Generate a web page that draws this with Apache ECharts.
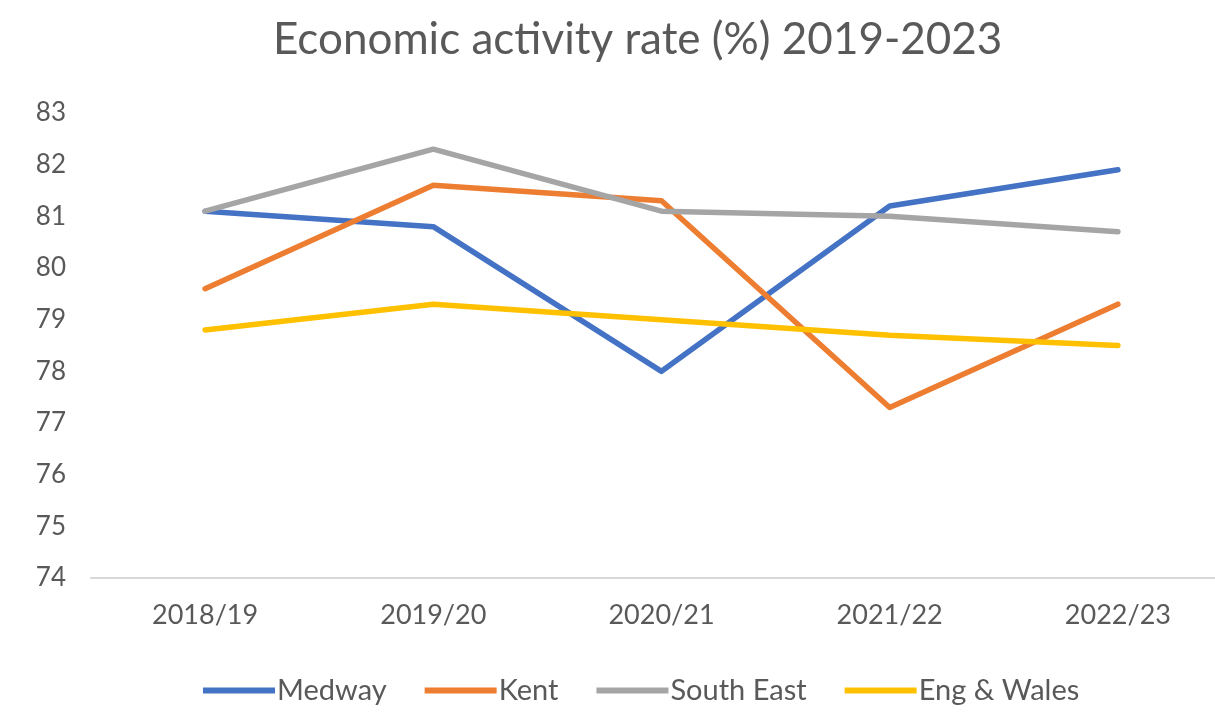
<!DOCTYPE html>
<html>
<head>
<meta charset="utf-8">
<script src="https://cdn.jsdelivr.net/npm/echarts@6/dist/echarts.min.js"></script>
<style>
html,body{margin:0;padding:0;background:#fff;}
#chart{width:1215px;height:727px;}
</style>
</head>
<body>
<div id="chart"></div>
<script>
const categories = ['2018/19', '2019/20', '2020/21', '2021/22', '2022/23'];
const medway = [81.1, 80.8, 78.0, 81.2, 81.9];
const kent = [79.6, 81.6, 81.3, 77.3, 79.3];
const southEast = [81.1, 82.3, 81.1, 81.0, 80.7];
const engWales = [78.8, 79.3, 79.0, 78.7, 78.5];
const yTicks = { min: 74, max: 83, interval: 1 };

const chart = echarts.init(document.getElementById('chart'), null, { renderer: 'canvas' });
const font = 'Lato, "Open Sans", sans-serif';
function mk(name, data, color) {
  return {
    name: name, type: 'line', data: data, symbol: 'none',
    lineStyle: { color: color, width: 5.5, cap: 'round', join: 'round' },
    itemStyle: { color: color }
  };
}
chart.setOption({
  animation: false,
  backgroundColor: '#ffffff',
  title: {
    text: 'Economic activity rate (%) 2019-2023',
    left: 268, top: 13,
    textStyle: { fontFamily: font, fontSize: 44, fontWeight: 'normal', color: '#595959' }
  },
  legend: {
    left: 198, top: 671,
    icon: 'rect', itemWidth: 72, itemHeight: 6, itemGap: 38,
    textStyle: { fontFamily: font, fontSize: 29, color: '#595959', padding: [0,0,0,-3] },
    data: ['Medway', 'Kent', 'South East', 'Eng & Wales']
  },
  grid: { left: 91, width: 1141, top: 113, bottom: 149, containLabel: false, outerBoundsMode: 'none' },
  xAxis: {
    type: 'category', data: categories, boundaryGap: true,
    axisLine: { lineStyle: { color: '#D9D9D9', width: 2 } },
    axisTick: { show: false },
    axisLabel: { fontFamily: font, fontSize: 27, color: '#595959', margin: 24 }
  },
  yAxis: {
    type: 'value', min: yTicks.min, max: yTicks.max, interval: yTicks.interval,
    axisLine: { show: false }, axisTick: { show: false },
    splitLine: { show: false },
    axisLabel: { fontFamily: font, fontSize: 26, color: '#595959', margin: 25 }
  },
  series: [
    mk('Medway', medway, '#4472C4'),
    mk('Kent', kent, '#ED7D31'),
    mk('South East', southEast, '#A5A5A5'),
    mk('Eng & Wales', engWales, '#FFC000')
  ]
});
</script>
</body>
</html>
